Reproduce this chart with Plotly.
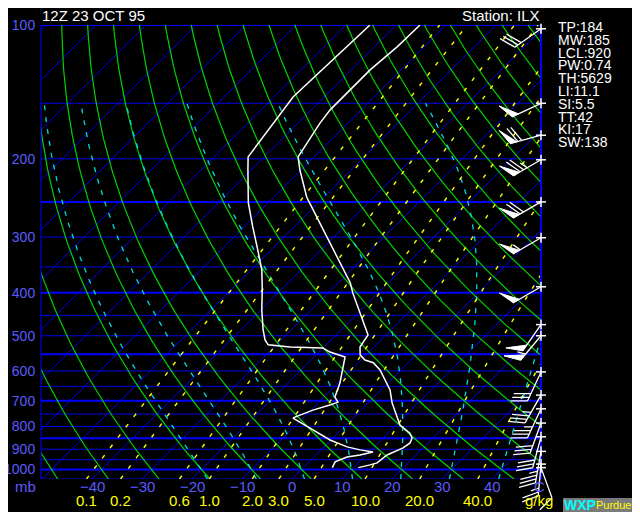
import numpy as np
import plotly.graph_objects as go

# ---------------- data ----------------
title_text = "12Z 23 OCT 95"
station_text = "Station: ILX"
stats_text = ["TP:184", "MW:185", "LCL:920", "PW:0.74", "TH:5629",
              "LI:11.1", "SI:5.5", "TT:42", "KI:17", "SW:138"]

temp_p = [100, 112, 126, 147.5, 155, 166, 198, 212, 244, 279, 309, 343, 380, 401,
          444, 498, 530, 552, 567, 575, 597, 662, 708, 774, 794, 828, 849, 871,
          894, 927, 951, 966, 976, 990]
temp_c = [-65.2, -65.4, -66.2, -66.2, -66.2, -65.6, -63.2, -60.2, -53.4, -45.6, -39.6,
          -33.6, -27.6, -25.0, -19.6, -13.6, -12.8, -11.2, -9.2, -7.0, -4.2, 1.8, 4.8,
          9.4, 10.8, 14.4, 15.8, 16.4, 16.0, 14.2, 13.8, 13.8, 12.8, 11.0]

dewp_p = [100, 127.6, 145, 198, 212, 251, 285, 321, 356, 394, 438, 485, 511, 524,
          530, 533, 544, 558, 588, 639, 687, 705, 716, 735, 762, 766, 782, 815, 858,
          889, 903, 913, 927, 937, 961, 990]
dewp_c = [-75.2, -75.8, -76.2, -73.2, -70.6, -64.0, -58.2, -52.6, -47.8, -43.8, -39.8,
          -35.6, -33.2, -31.6, -26.8, -20.0, -17.8, -13.8, -12.2, -9.6, -7.8, -6.2,
          -7.2, -9.6, -11.8, -12.0, -9.8, -5.6, -0.2, 4.6, 7.8, 10.8, 8.8, 6.6, 5.2, 5.8]

wind_p = [102, 150, 177, 201, 250, 301, 388, 472, 500, 603, 680, 730, 786, 844, 910, 972, 990]
wind_dir = [235, 245, 255, 240, 240, 240, 240, 215, 220, 205, 210, 205, 200, 195, 190, 185, 160]
wind_kt = [30, 50, 70, 75, 70, 55, 50, 50, 55, 30, 35, 35, 30, 30, 35, 25, 10]

pressure_ticks = [100, 200, 300, 400, 500, 600, 700, 800, 900, 1000]
temp_ticks = [-40, -30, -20, -10, 0, 10, 20, 30, 40]
temp_tick_text = ["\u221240", "\u221230", "\u221220", "\u221210", "0", "10", "20", "30", "40"]
mixing_ratios = [0.1, 0.2, 0.6, 1.0, 2.0, 3.0, 5.0, 10.0, 20.0, 40.0]
mixing_text = ["0.1", "0.2", "0.6", "1.0", "2.0", "3.0", "5.0", "10.0", "20.0", "40.0"]
isobars = list(range(100, 1051, 50))
isobars_bold = [100, 250, 400, 550, 700, 850, 1000]
isotherms = list(range(-150, 41, 10))
dry_theta_c = list(range(-60, 181, 10))
moist_thetaw_c = [-20, -10, 0, 10, 20, 30, 40]

# ---------------- geometry of the skew-T ----------------
PAGE_OFFSET = 8          # the page body margin shifts the figure by 8 px
P_BOT, P_TOP = 1050.0, 100.0
W_PX, H_PX = 500.0, 454.0
L_MARGIN, T_MARGIN = 41, 25   # plot origin in the reference picture
X_MIN, X_MAX = -50.2, 49.8
K_SKEW = (H_PX / (W_PX / (X_MAX - X_MIN))) / np.log(P_BOT / P_TOP)


def skew_x(t, p):
    t = np.asarray(t, dtype=float)
    p = np.asarray(p, dtype=float)
    return t + K_SKEW * np.log(P_BOT / p)


def y_frac(p):
    return np.log(P_BOT / p) / np.log(P_BOT / P_TOP)


def px_y(p):
    return T_MARGIN + H_PX * (1 - y_frac(p))


def paper(pxx, pxy):
    return (pxx - L_MARGIN) / W_PX, (T_MARGIN + H_PX - pxy) / H_PX


def td_from_e(e):
    a = np.log(e / 6.112)
    return 243.5 * a / (17.67 - a)


def moist_adiabat(tw_c, p_top=150.0):
    Rd, cp, Lv, eps = 287.04, 1005.7, 2.501e6, 0.622

    def f(T, p):
        es = 6.112 * np.exp(17.67 * (T - 273.15) / (T - 29.65))
        rs = eps * es / (p - es)
        return (Rd * T + Lv * rs) / (p * (cp + Lv * Lv * rs * eps / (Rd * T * T)))

    def integrate(p0, p1, T0, n):
        ps = np.linspace(p0, p1, n)
        Ts = [T0]
        for i in range(n - 1):
            h = ps[i + 1] - ps[i]
            T, p = Ts[-1], ps[i]
            k1 = f(T, p)
            k2 = f(T + h * k1 / 2, p + h / 2)
            k3 = f(T + h * k2 / 2, p + h / 2)
            k4 = f(T + h * k3, p + h)
            Ts.append(T + h * (k1 + 2 * k2 + 2 * k3 + k4) / 6)
        return ps, np.array(Ts)

    T0 = tw_c + 273.15
    pu, Tu = integrate(1000.0, p_top, T0, 200)
    pd, Td = integrate(1000.0, P_BOT, T0, 10)
    p = np.concatenate([pd[::-1], pu[1:]])
    T = np.concatenate([Td[::-1], Tu[1:]]) - 273.15
    return p, T


def joined(lines):
    xs, ys = [], []
    for x, y in lines:
        xs.extend(list(x) + [None])
        ys.extend(list(y) + [None])
    return xs, ys


fig = go.Figure()

# isobars
thin = [(np.array([X_MIN, X_MAX]), np.array([p, p])) for p in isobars if p not in isobars_bold]
bold = [(np.array([X_MIN, X_MAX]), np.array([p, p])) for p in isobars_bold]
xs, ys = joined(thin)
fig.add_trace(go.Scatter(x=xs, y=ys, mode="lines", line=dict(color="#0000e6", width=1),
                         hoverinfo="skip", showlegend=False))
xs, ys = joined(bold)
fig.add_trace(go.Scatter(x=xs, y=ys, mode="lines", line=dict(color="#0000ff", width=2),
                         hoverinfo="skip", showlegend=False))

# isotherms
pp = np.array([P_BOT, P_TOP])
xs, ys = joined([(skew_x([t, t], pp), pp) for t in isotherms])
fig.add_trace(go.Scatter(x=xs, y=ys, mode="lines", line=dict(color="#0000f0", width=1),
                         hoverinfo="skip", showlegend=False))

# dry adiabats
pd_ = np.geomspace(P_BOT, P_TOP, 80)
dl = []
for th in dry_theta_c:
    t = (th + 273.15) * (pd_ / 1000.0) ** 0.2857 - 273.15
    dl.append((skew_x(t, pd_), pd_))
xs, ys = joined(dl)
fig.add_trace(go.Scatter(x=xs, y=ys, mode="lines", line=dict(color="#00d400", width=1.2),
                         hoverinfo="skip", showlegend=False))

# moist adiabats
ml = []
for tw in moist_thetaw_c:
    p, t = moist_adiabat(tw)
    ml.append((skew_x(t, p), p))
xs, ys = joined(ml)
fig.add_trace(go.Scatter(x=xs, y=ys, mode="lines",
                         line=dict(color="#00dcdc", width=1.3, dash="5px,7px"),
                         hoverinfo="skip", showlegend=False))

# mixing ratio lines
pm = np.geomspace(P_BOT, P_TOP, 60)
wl = []
for w in mixing_ratios:
    e = w * pm / (622.0 + w)
    wl.append((skew_x(td_from_e(e), pm), pm))
xs, ys = joined(wl)
fig.add_trace(go.Scatter(x=xs, y=ys, mode="lines",
                         line=dict(color="#ffff00", width=1.4, dash="4px,9px"),
                         hoverinfo="skip", showlegend=False))

# sounding
fig.add_trace(go.Scatter(x=skew_x(dewp_c, dewp_p), y=dewp_p, mode="lines",
                         line=dict(color="white", width=1.5), showlegend=False))
fig.add_trace(go.Scatter(x=skew_x(temp_c, temp_p), y=temp_p, mode="lines",
                         line=dict(color="white", width=1.5), showlegend=False))

shapes = []
# left / right frame
shapes.append(dict(type="line", xref="paper", yref="paper", x0=0, x1=0, y0=0, y1=1,
                   line=dict(color="#0000ff", width=1)))
shapes.append(dict(type="line", xref="paper", yref="paper", x0=1, x1=1, y0=0, y1=1,
                   line=dict(color="#0000ff", width=2)))

# wind barbs
X_AXIS_PX = L_MARGIN + W_PX
STAFF, FEATHER, STEP = 32.0, 17.0, 4.0
for p, d, s in zip(wind_p, wind_dir, wind_kt):
    yb = px_y(p)
    xb = X_AXIS_PX
    for (a, b, c, dd) in [(xb - 5, yb, xb + 5, yb), (xb, yb - 5, xb, yb + 5)]:
        x0, y0 = paper(a, b)
        x1, y1 = paper(c, dd)
        shapes.append(dict(type="line", xref="paper", yref="paper", x0=x0, y0=y0, x1=x1, y1=y1,
                           line=dict(color="white", width=1.5)))
    rad = np.radians(d)
    ux, uy = np.sin(rad), -np.cos(rad)
    prx, pry = -uy, ux
    ang = np.radians(25)
    fx, fy = prx * np.cos(ang) + ux * np.sin(ang), pry * np.cos(ang) + uy * np.sin(ang)
    p0 = paper(xb, yb)
    p1 = paper(xb + ux * STAFF, yb + uy * STAFF)
    path = "M {:.5f},{:.5f} L {:.5f},{:.5f}".format(p0[0], p0[1], p1[0], p1[1])
    rem = int(round(s / 5.0)) * 5
    pos = STAFF
    n50 = rem // 50
    rem -= n50 * 50
    for _ in range(n50):
        a = (xb + ux * pos, yb + uy * pos)
        b = (a[0] + fx * FEATHER, a[1] + fy * FEATHER)
        c = (xb + ux * (pos - 7), yb + uy * (pos - 7))
        pa, pb, pc = paper(*a), paper(*b), paper(*c)
        tri = "M {:.5f},{:.5f} L {:.5f},{:.5f} L {:.5f},{:.5f} Z".format(
            pa[0], pa[1], pb[0], pb[1], pc[0], pc[1])
        shapes.append(dict(type="path", xref="paper", yref="paper", path=tri,
                           fillcolor="white", line=dict(color="white", width=1)))
        pos -= 8
    n10 = rem // 10
    rem -= n10 * 10
    for _ in range(n10):
        a = (xb + ux * pos, yb + uy * pos)
        b = (a[0] + fx * FEATHER, a[1] + fy * FEATHER)
        pa, pb = paper(*a), paper(*b)
        path += " M {:.5f},{:.5f} L {:.5f},{:.5f}".format(pa[0], pa[1], pb[0], pb[1])
        pos -= STEP
    if rem >= 5:
        if n10 == 0 and n50 == 0:
            pos -= STEP
        a = (xb + ux * pos, yb + uy * pos)
        b = (a[0] + fx * FEATHER / 2, a[1] + fy * FEATHER / 2)
        pa, pb = paper(*a), paper(*b)
        path += " M {:.5f},{:.5f} L {:.5f},{:.5f}".format(pa[0], pa[1], pb[0], pb[1])
    shapes.append(dict(type="path", xref="paper", yref="paper", path=path,
                       line=dict(color="white", width=1.3)))

# WXP logo box
bx0, by0 = paper(563, 498)
bx1, by1 = paper(640, 512)
shapes.append(dict(type="rect", xref="paper", yref="paper", x0=bx0, y0=by0, x1=bx1, y1=by1,
                   fillcolor="#7a7a7a", line=dict(width=0)))

FONT = "Liberation Sans"
LABEL_BLUE = "#5a5aff"
annotations = []


def ann(text, xpx, ypx, color, size, xanchor="left", xref="paper", xval=None, family=FONT):
    xp, yp = paper(xpx if xpx is not None else 0, ypx)
    annotations.append(dict(text=text, x=xval if xref == "x" else xp, y=yp, xref=xref,
                            yref="paper", xanchor=xanchor, yanchor="middle", showarrow=False,
                            font=dict(family=family, size=size, color=color)))


ann(title_text, 40, 16, "white", 15)
ann(station_text, 542, 16, "white", 15, xanchor="right")
for i, s in enumerate(stats_text):
    ann(s, 556, 27 + i * 12.8, "white", 14)
ann("mb", 25, 487, LABEL_BLUE, 15, xanchor="center")
for t, txt in zip(temp_ticks, temp_tick_text):
    ann(txt, None, 487, LABEL_BLUE, 15, xanchor="center", xref="x", xval=float(t))
ann("C", 539, 487, LABEL_BLUE, 15, xanchor="center")
for w, txt in zip(mixing_ratios, mixing_text):
    e = w * P_BOT / (622.0 + w)
    ann(txt, None, 500, "#ffff00", 15, xanchor="center", xref="x",
        xval=float(skew_x(td_from_e(e), P_BOT)))
ann("g/kg", 539, 500, "#ffff00", 15, xanchor="center")
ann("<b>WXP</b>", 562, 505, "#00ffff", 14)
ann("Purdue", 594, 505, "#ffff00", 11)

fig.update_layout(
    template="none",
    width=640 - PAGE_OFFSET, height=512 - PAGE_OFFSET, autosize=False,
    margin=dict(l=L_MARGIN - PAGE_OFFSET, r=640 - L_MARGIN - int(W_PX),
                t=T_MARGIN - PAGE_OFFSET, b=512 - T_MARGIN - int(H_PX),
                pad=0, autoexpand=False),
    paper_bgcolor="black", plot_bgcolor="black",
    showlegend=False,
    shapes=shapes, annotations=annotations,
    xaxis=dict(range=[X_MIN, X_MAX], showgrid=False, zeroline=False, showline=False,
               showticklabels=False, ticks="", automargin=False),
    yaxis=dict(type="log", range=[np.log10(P_BOT), np.log10(P_TOP)], showgrid=False,
               zeroline=False, showline=False, tickvals=pressure_ticks,
               ticktext=[str(v) for v in pressure_ticks], ticks="outside", ticklen=2,
               tickcolor="black", automargin=False,
               tickfont=dict(family=FONT, size=14, color=LABEL_BLUE)),
)

fig.write_html("out.html")
